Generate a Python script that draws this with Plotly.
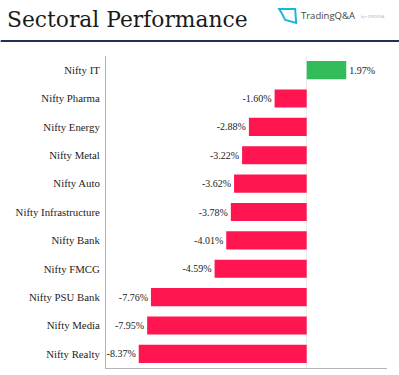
import plotly.graph_objects as go

categories = ["Nifty IT", "Nifty Pharma", "Nifty Energy", "Nifty Metal", "Nifty Auto",
              "Nifty Infrastructure", "Nifty Bank", "Nifty FMCG", "Nifty PSU Bank",
              "Nifty Media", "Nifty Realty"]
values = [1.97, -1.60, -2.88, -3.22, -3.62, -3.78, -4.01, -4.59, -7.76, -7.95, -8.37]
labels = ["1.97%", "-1.60%", "-2.88%", "-3.22%", "-3.62%", "-3.78%", "-4.01%", "-4.59%",
          "-7.76%", "-7.95%", "-8.37%"]
colors = ["#33BD5A" if v > 0 else "#FF1651" for v in values]

W, H = 399, 375
L, R, T, B = 105.5, 12, 56, 7
SERIF = "Liberation Serif"
TITLE_SERIF = "DejaVu Serif"

def px(x):
    return (x - L) / (W - L - R)

def py(y):
    return 1 - (y - T) / (H - T - B)

fig = go.Figure(go.Bar(
    x=values, y=categories, orientation="h", marker=dict(color=colors, line_width=0),
    width=0.64, text=labels, textposition="outside", cliponaxis=False,
    textfont=dict(family=SERIF, size=10, color="#222222"), hoverinfo="skip",
))

shapes = [
    dict(type="line", xref="paper", yref="paper", x0=px(0), x1=px(W), y0=py(41), y1=py(41),
         line=dict(color="#1F3358", width=2)),
    dict(type="path", xref="paper", yref="paper",
         path=f"M {px(279)} {py(9)} L {px(295)} {py(9)} L {px(296)} {py(23)} L {px(285)} {py(20)} L {px(282)} {py(14)} Z",
         line=dict(color="#1CB5DC", width=2), fillcolor="rgba(0,0,0,0)"),
]

annotations = [
    dict(text="Sectoral Performance", xref="paper", yref="paper", x=px(4), y=py(19.5),
         xanchor="left", yanchor="middle", showarrow=False,
         font=dict(family=TITLE_SERIF, size=21.8, color="#1A1A1A")),
    dict(text="TradingQ&A", xref="paper", yref="paper", x=px(299), y=py(15.5),
         xanchor="left", yanchor="middle", showarrow=False,
         font=dict(family="Open Sans", size=9.5, color="#444444")),
    dict(text="by ▪ ZERODHA", xref="paper", yref="paper", x=px(359), y=py(16),
         xanchor="left", yanchor="middle", showarrow=False,
         font=dict(family="Open Sans", size=3.5, color="#AAAAAA")),
]

fig.update_layout(
    width=W, height=H, autosize=False, margin=dict(l=L, r=R, t=T, b=B, pad=0),
    paper_bgcolor="white", plot_bgcolor="white", showlegend=False,
    shapes=shapes, annotations=annotations,
    font=dict(family=SERIF, size=10, color="#333333"),
    xaxis=dict(range=[-10, 4], showgrid=False, zeroline=True, zerolinecolor="#EDEDED",
               zerolinewidth=1, showticklabels=False, ticks="",
               showline=True, linecolor="#B3B3B3", linewidth=1),
    yaxis=dict(categoryorder="array", categoryarray=categories[::-1], showgrid=False,
               ticks="", showline=True, linecolor="#B3B3B3", linewidth=1, automargin=False,
               tickfont=dict(family=SERIF, size=10.8, color="#222222"), ticklabelstandoff=3),
)

fig.write_html("out.html", config={"displayModeBar": False},
               post_script="document.body.style.margin='0';document.body.style.overflow='hidden';")
